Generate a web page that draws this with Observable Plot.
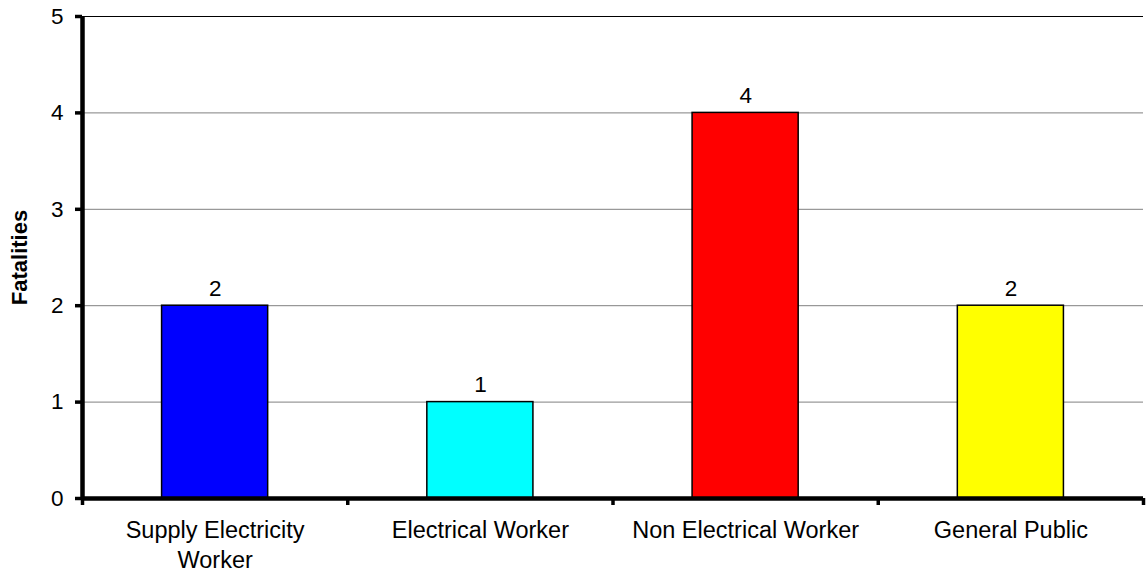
<!DOCTYPE html>
<html>
<head>
<meta charset="utf-8">
<script src="https://cdn.jsdelivr.net/npm/d3@7"></script>
<script src="https://cdn.jsdelivr.net/npm/@observablehq/plot@0.6"></script>
<style>
  html, body { margin: 0; padding: 0; background: #fff; }
  #chart svg { display: block; }
</style>
</head>
<body>
<div id="chart"></div>
<script>
// Fatalities by person category
const categories = ["Supply Electricity\nWorker", "Electrical Worker", "Non Electrical Worker", "General Public"];
const fatalities = [2, 1, 4, 2];
const barColors = ["#0000ff", "#00ffff", "#ff0000", "#ffff00"];
const yTicks = [0, 1, 2, 3, 4, 5];

const data = categories.map((name, i) => ({i, name, value: fatalities[i], color: barColors[i]}));
const font = "'Liberation Sans', Arial, sans-serif";

const chart = Plot.plot({
  width: 1147,
  height: 573,
  marginLeft: 82,
  marginRight: 4,
  marginTop: 16,
  marginBottom: 75,
  style: {fontFamily: font, fontSize: "22px", color: "#000", background: "#fff"},
  x: {domain: [0, categories.length], axis: null, label: null},
  y: {domain: [0, 5], axis: null, label: null},
  marks: [
    // horizontal gridlines
    Plot.ruleY(yTicks.filter(d => d > 0 && d < 5), {stroke: "#808080", strokeWidth: 1}),
    Plot.ruleY([5], {stroke: "#000", strokeWidth: 1}),
    // bars, centred in each category slot
    Plot.rectY(data, {
      x1: d => d.i + 0.3,
      x2: d => d.i + 0.7,
      y1: 0,
      y2: "value",
      fill: d => d.color,
      stroke: "#000",
      strokeWidth: 1.5
    }),
    // value labels
    Plot.text(data, {
      x: d => d.i + 0.5,
      y: "value",
      text: d => String(d.value),
      dy: -17,
      fontSize: 22.5,
      fill: "#000"
    }),
    // y axis ticks and labels
    Plot.axisY({ticks: yTicks, tickSize: 7, tickPadding: 12, strokeWidth: 3.5, fontSize: 22.5, label: null, tickFormat: d => String(d)}),
    // x axis boundary ticks
    Plot.axisX({ticks: d3.range(categories.length + 1), tickSize: 7, tickFormat: () => "", label: null, strokeWidth: 3.5}),
    // category labels
    Plot.axisX({
      ticks: categories.map((_, i) => i + 0.5),
      tickSize: 0,
      tickPadding: 19,
      fontSize: 23.5,
      lineHeight: 1.25,
      label: null,
      tickFormat: (d) => categories[Math.floor(d)]
    }),
    // axis lines
    Plot.ruleX([0], {y1: 0, y2: 5, strokeWidth: 4.5, stroke: "#000"}),
    Plot.ruleY([0], {strokeWidth: 4.5, stroke: "#000"}),
    // y axis title
    Plot.text(["Fatalities"], {
      frameAnchor: "left",
      textAnchor: "middle",
      dx: -63,
      rotate: -90,
      fontWeight: "bold",
      fontSize: 22,
      fill: "#000"
    })
  ]
});

document.getElementById("chart").appendChild(chart);
</script>
</body>
</html>
